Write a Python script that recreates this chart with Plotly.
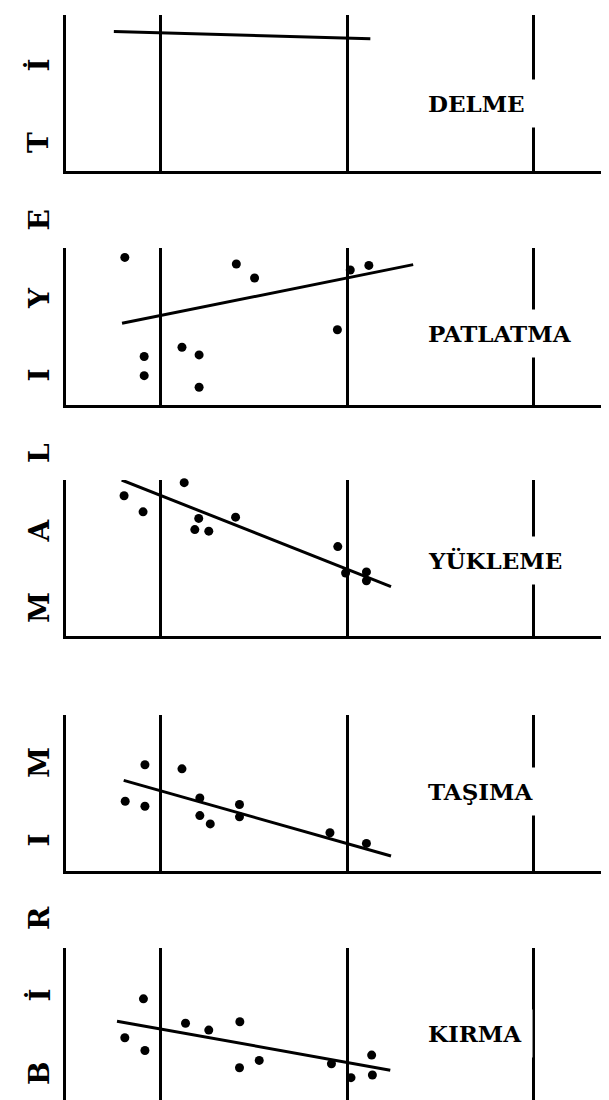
import plotly.graph_objects as go

# ---------------- data ----------------
panel_names = ["DELME", "PATLATMA", "YÜKLEME", "TAŞIMA", "KIRMA"]
y_title_letters = ["B", "İ", "R", "I", "M", " ", "M", "A", "L", "I", "Y", "E", "T", "İ"]

delme_x = []
delme_y = []

patlatma_x = [0.806, 1.113, 1.405, 1.503, 0.910, 0.910, 1.113, 1.205, 1.205, 1.948, 2.017, 2.117]
patlatma_y = [0.940, 1.004, 0.898, 0.809, 0.309, 0.187, 0.368, 0.319, 0.113, 0.479, 0.860, 0.889]

yukleme_x = [0.802, 0.904, 0.904, 1.125, 1.203, 1.182, 1.257, 1.401, 1.950, 1.992, 2.104, 2.104]
yukleme_y = [0.899, 1.040, 0.796, 0.983, 0.754, 0.682, 0.672, 0.762, 0.573, 0.404, 0.411, 0.354]

tasima_x = [0.808, 0.914, 0.914, 1.113, 1.209, 1.209, 1.265, 1.422, 1.422, 1.908, 2.104]
tasima_y = [0.447, 0.415, 0.681, 0.655, 0.468, 0.355, 0.302, 0.426, 0.347, 0.245, 0.177]

kirma_x = [0.806, 0.914, 0.906, 1.132, 1.257, 1.424, 1.422, 1.528, 1.916, 2.021, 2.132, 2.136]
kirma_y = [0.428, 0.347, 0.676, 0.521, 0.477, 0.530, 0.237, 0.284, 0.263, 0.174, 0.318, 0.191]

# fitted lines: start / end
trend_x0 = [0.747, 0.791, 0.789, 0.800, 0.764]
trend_x1 = [2.125, 2.355, 2.236, 2.236, 2.232]
trend_y0 = [0.894, 0.521, 1.000, 0.581, 0.534]
trend_y1 = [0.847, 0.894, 0.316, 0.096, 0.222]

label_y = [0.432, 0.457, 0.484, 0.510, 0.455]

points_x = [delme_x, patlatma_x, yukleme_x, tasima_x, kirma_x]
points_y = [delme_y, patlatma_y, yukleme_y, tasima_y, kirma_y]

# ---------------- layout geometry ----------------
W, H = 609, 1100
panel_px = [(7, 163), (240, 397), (472, 628), (707, 863), (940, 1097)]
x_range = [0.49, 3.45]
label_x = 2.376

fig = go.Figure()
font_family = "DejaVu Serif"

for i in range(5):
    k = "" if i == 0 else str(i + 1)
    xa, ya = "x" + k, "y" + k
    fig.add_trace(go.Scatter(
        x=points_x[i], y=points_y[i], mode="markers",
        marker=dict(color="black", size=9),
        xaxis=xa, yaxis=ya, cliponaxis=False, hoverinfo="skip"))
    fig.add_trace(go.Scatter(
        x=[trend_x0[i], trend_x1[i]], y=[trend_y0[i], trend_y1[i]], mode="lines",
        line=dict(color="black", width=3),
        xaxis=xa, yaxis=ya, cliponaxis=False, hoverinfo="skip"))
    top, bot = panel_px[i]
    fig.layout["xaxis" + k] = dict(
        domain=[0, 1], range=x_range, anchor=ya,
        tickvals=[1, 2, 3], showticklabels=False, ticks="",
        showgrid=True, gridcolor="black", gridwidth=2.5,
        showline=True, linecolor="black", linewidth=3, zeroline=False,
        fixedrange=True)
    fig.layout["yaxis" + k] = dict(
        domain=[1 - bot / H, 1 - top / H], range=[0, 1], anchor=xa,
        showgrid=False, showticklabels=False, ticks="",
        showline=True, linecolor="black", linewidth=3, zeroline=False,
        fixedrange=True)
    fig.add_annotation(
        x=label_x, y=label_y[i], xref=xa, yref=ya, xanchor="left", yanchor="middle",
        text="<b>" + panel_names[i] + "</b>", showarrow=False,
        font=dict(family=font_family, size=23, color="black"),
        bgcolor="white", borderpad=10)

# vertical axis title, one letter at a time (typewriter spacing)
step = 77.5
for j, ch in enumerate(y_title_letters):
    if ch == " ":
        continue
    py = 1065 - j * step
    fig.add_annotation(
        x=(31 - 58) / (W - 58), y=1 - py / H, xref="paper", yref="paper",
        xanchor="center", yanchor="middle", textangle=-90,
        text="<b>" + ch + "</b>", showarrow=False,
        font=dict(family=font_family, size=28, color="black"))

fig.update_layout(
    width=W, height=H, margin=dict(l=58, r=0, t=0, b=0),
    plot_bgcolor="white", paper_bgcolor="white", showlegend=False)

fig.write_html("out.html")
